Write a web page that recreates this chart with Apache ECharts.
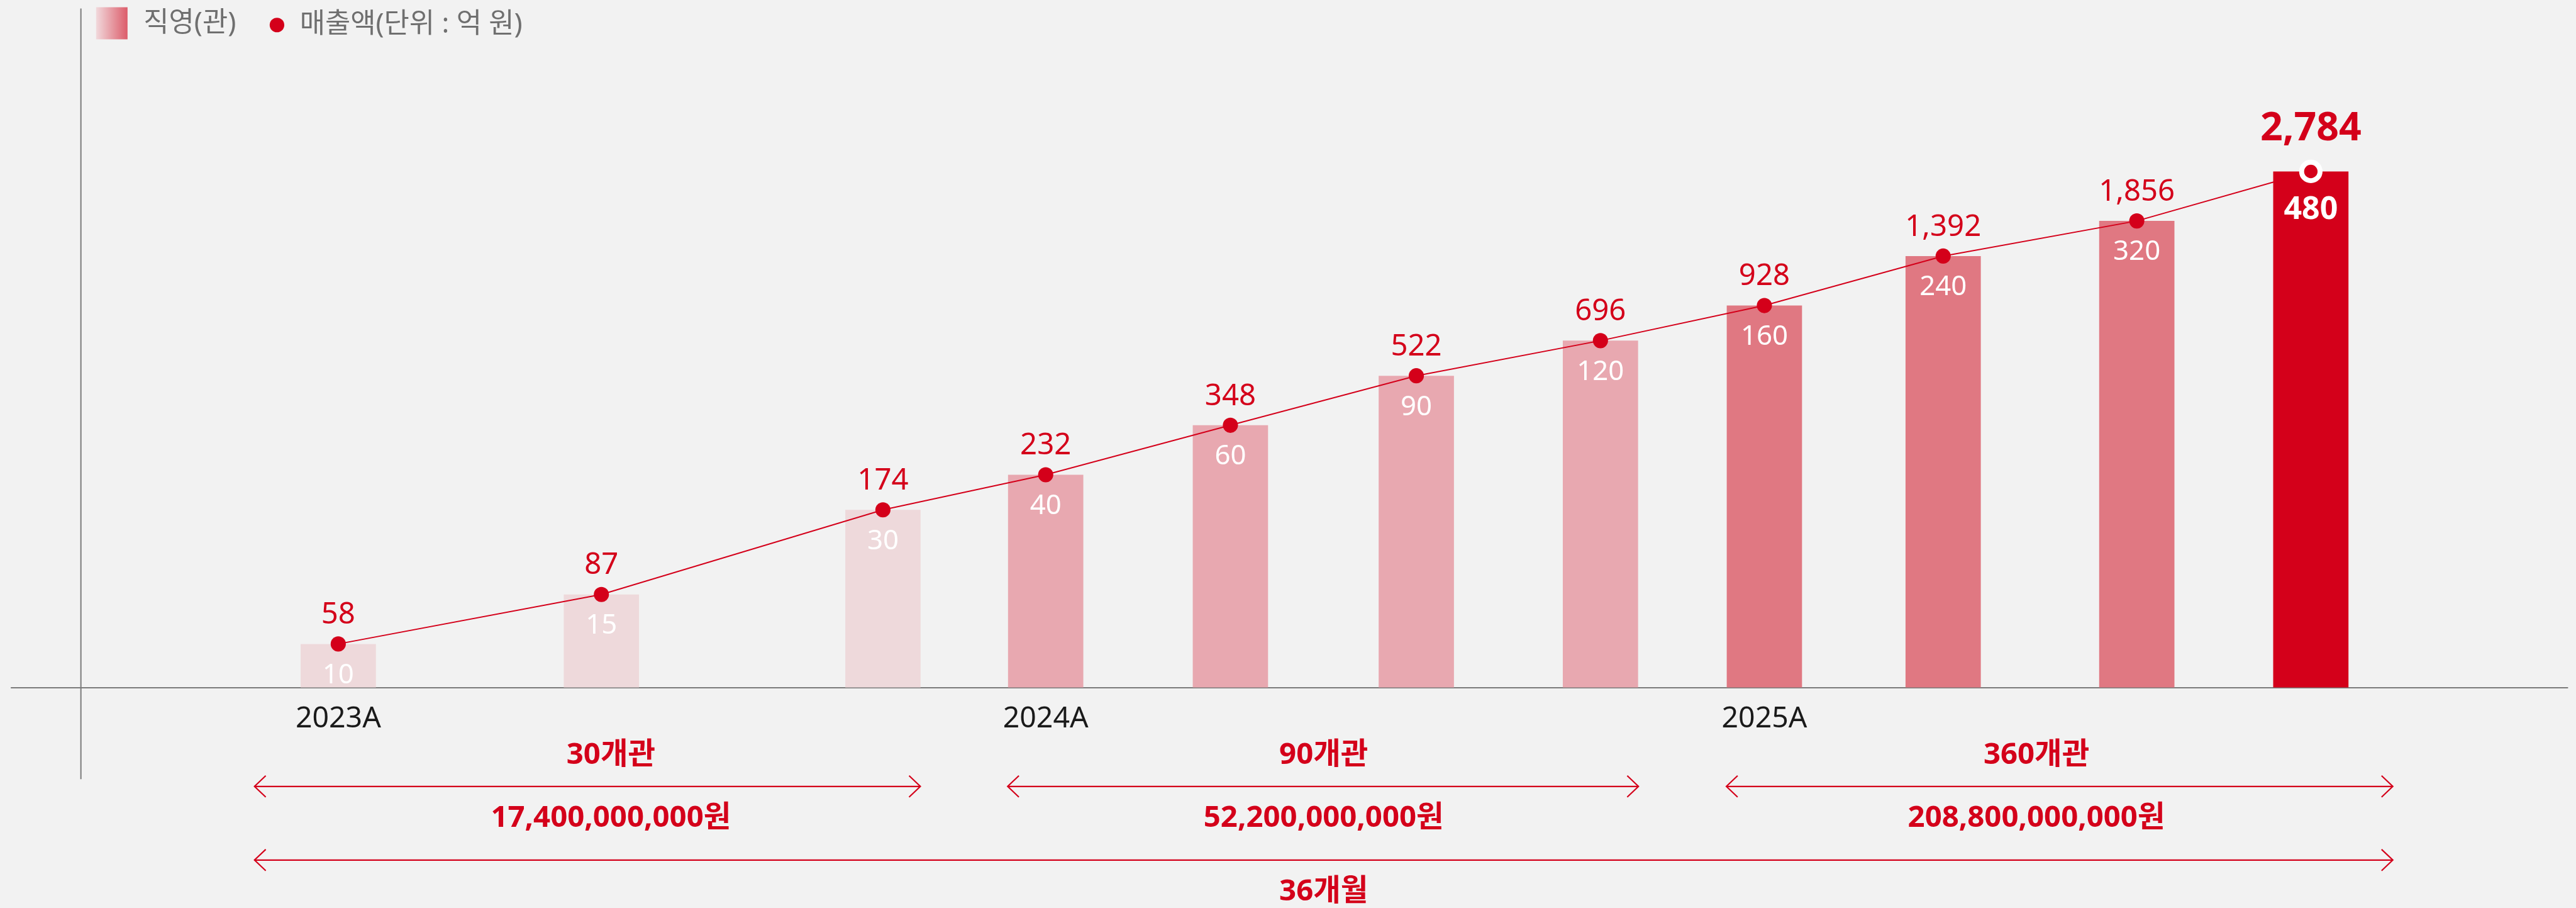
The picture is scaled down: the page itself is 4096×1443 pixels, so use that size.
<!DOCTYPE html>
<html lang="ko">
<head>
<meta charset="utf-8">
<title>직영 매출 추이</title>
<script src="https://cdn.jsdelivr.net/npm/echarts@6/dist/echarts.min.js"></script>
<style>
  html, body { margin: 0; padding: 0; background: #f2f2f2; }
  #chart { width: 4096px; height: 1443px; }
</style>
</head>
<body>
<div id="chart"></div>
<script>
// ---- data ----
// position of each bar on the 36-month timeline (months from start)
const barMonths = [1.41, 5.84, 10.58, 13.32, 16.43, 19.56, 22.66, 25.42, 28.43, 31.69, 34.62];
// directly operated stores (관)
const storeCounts = [10, 15, 30, 40, 60, 90, 120, 160, 240, 320, 480];
// revenue (억 원)
const revenue = [58, 87, 174, 232, 348, 522, 696, 928, 1392, 1856, 2784];
const barYears = ['2023A', '2023A', '2023A', '2024A', '2024A', '2024A', '2024A', '2025A', '2025A', '2025A', '2025A'];
const yearLabels = ['2023A', '2024A', '2025A'];

// yearly summaries under the axis
const periodStoreText = ['30개관', '90개관', '360개관'];
const periodRevenueText = ['17,400,000,000원', '52,200,000,000원', '208,800,000,000원'];
const periodCenter = [6, 18, 30];
const periodStart = [0, 12.68, 24.78];
const periodEnd = [11.21, 23.3, 36];
const totalSpan = [0, 36];
const totalText = '36개월';

const legendNames = ['직영(관)', '매출액(단위 : 억 원)'];

// ---- style / layout ----
const S = 4096 / 4585;
const RED = '#d4001a';
const AXIS_GREY = '#7a7a7a';
const FONT = '"Noto Sans", "Noto Sans CJK KR", sans-serif';
const yearColor = { '2023A': '#eed9db', '2024A': '#e8a8b0', '2025A': '#e07882' };
const lastIdx = storeCounts.length - 1;

// timeline scale: month 0 sits at 453px, 105.72px per month (full-size units)
const M0 = 453, PPM = 105.72;
const gridLeft = 20, gridRight = 4570;
const xMin = (gridLeft - M0) / PPM;
const xMax = (gridRight - M0) / PPM;

const barMin = 7;
const barMax = storeCounts[lastIdx];
const ratio = revenue[lastIdx] / storeCounts[lastIdx];

const yearTickMonths = yearLabels.map(y => barMonths[barYears.indexOf(y)]);

const chart = echarts.init(document.getElementById('chart'), null, { renderer: 'canvas' });

const legendGradient = new echarts.graphic.LinearGradient(0, 0, 1, 0, [
  { offset: 0, color: '#f1d9dc' },
  { offset: 1, color: '#dc5c6a' }
]);

const option = {
  backgroundColor: '#f2f2f2',
  animation: false,
  textStyle: { fontFamily: FONT },
  legend: [
    {
      data: [{ name: legendNames[0], icon: 'rect', itemStyle: { color: legendGradient } }],
      left: 171 * S, top: 13 * S, padding: 0,
      itemWidth: 56 * S, itemHeight: 57 * S,
      selectedMode: false,
      textStyle: { fontSize: 49 * S, color: '#6f6f6f', fontFamily: FONT, padding: [0, 0, 0, 23 * S] }
    },
    {
      data: [{ name: legendNames[1], icon: 'circle', itemStyle: { color: RED } }],
      left: 480 * S, top: 20 * S, padding: 0,
      itemWidth: 26 * S, itemHeight: 26 * S,
      selectedMode: false,
      textStyle: { fontSize: 49 * S, color: '#6f6f6f', fontFamily: FONT, padding: [0, 0, 0, 22 * S] }
    }
  ],
  grid: {
    left: gridLeft * S,
    right: 4096 - gridRight * S,
    top: 305 * S,
    bottom: 1443 - 1223 * S,
    containLabel: false
  },
  xAxis: {
    type: 'value',
    min: xMin,
    max: xMax,
    axisLine: { show: true, onZero: false, lineStyle: { color: AXIS_GREY, width: 2 } },
    axisTick: { show: false },
    splitLine: { show: false },
    axisLabel: {
      show: true,
      customValues: yearTickMonths,
      margin: 27,
      color: '#1a1a1a',
      fontSize: 52 * S,
      fontFamily: FONT,
      formatter: v => {
        const i = yearTickMonths.findIndex(m => Math.abs(m - v) < 1e-6);
        return i >= 0 ? yearLabels[i] : '';
      }
    }
  },
  yAxis: [
    {
      type: 'log', min: barMin, max: barMax, startValue: barMin, show: false,
      splitLine: { show: false }
    },
    {
      type: 'log', min: barMin * ratio, max: barMax * ratio, startValue: barMin * ratio, show: false,
      splitLine: { show: false }
    }
  ],
  series: [
    {
      name: legendNames[0],
      type: 'bar',
      yAxisIndex: 0,
      barWidth: 134 * S,
      itemStyle: { color: yearColor['2025A'] },
      emphasis: { disabled: true },
      label: {
        show: true,
        position: 'insideTop',
        distance: 28,
        color: '#ffffff',
        fontSize: 49 * S,
        fontFamily: FONT
      },
      data: storeCounts.map((v, i) => {
        const item = { value: [barMonths[i], v], itemStyle: { color: yearColor[barYears[i]] } };
        if (i === lastIdx) {
          item.itemStyle = { color: RED };
          item.label = { fontSize: 56 * S, fontWeight: 'bold', distance: 36 };
        }
        return item;
      }),
      z: 2
    },
    {
      name: legendNames[1],
      type: 'line',
      yAxisIndex: 1,
      symbol: 'circle',
      symbolSize: 27 * S,
      itemStyle: { color: RED },
      lineStyle: { color: RED, width: 2 },
      emphasis: { disabled: true },
      label: {
        show: true,
        position: 'top',
        distance: 10,
        color: RED,
        fontSize: 53 * S,
        fontFamily: FONT,
        formatter: p => p.value[1].toLocaleString('en-US')
      },
      data: revenue.map((v, i) => {
        const item = { value: [barMonths[i], v] };
        if (i === lastIdx) {
          item.symbolSize = 29.3;
          item.itemStyle = { color: RED, borderColor: '#ffffff', borderWidth: 7.9 };
          item.label = { fontSize: 70 * S, fontWeight: 'bold', distance: 17 };
        }
        return item;
      }),
      z: 5
    }
  ]
};

chart.setOption(option);

// ---- annotations below the axis, placed through the x scale ----
const px = m => chart.convertToPixel({ xAxisIndex: 0 }, m);
const ROW_STORES = 1344 * S;
const ROW_ARROW = 1399 * S;
const ROW_REVENUE = 1456 * S;
const ROW_TOTAL_ARROW = 1530 * S;
const ROW_TOTAL_TEXT = 1587 * S;
const HEAD_L = 20 * S, HEAD_H = 19 * S, ARROW_W = 2.2;

function arrow(m1, m2, y) {
  const x1 = px(m1), x2 = px(m2);
  const st = { stroke: RED, lineWidth: ARROW_W, fill: 'none' };
  return [
    { type: 'line', silent: true, shape: { x1: x1, y1: y, x2: x2, y2: y }, style: st },
    { type: 'polyline', silent: true, shape: { points: [[x1 + HEAD_L, y - HEAD_H], [x1, y], [x1 + HEAD_L, y + HEAD_H]] }, style: st },
    { type: 'polyline', silent: true, shape: { points: [[x2 - HEAD_L, y - HEAD_H], [x2, y], [x2 - HEAD_L, y + HEAD_H]] }, style: st }
  ];
}

function label(text, m, y) {
  return {
    type: 'text', silent: true, x: px(m), y: y,
    style: {
      text: text, fill: RED, fontSize: 53 * S, fontFamily: FONT, fontWeight: 'bold',
      align: 'center', verticalAlign: 'middle'
    }
  };
}

const graphics = [
  // vertical guide line on the left
  { type: 'line', silent: true, shape: { x1: 144 * S, y1: 15 * S, x2: 144 * S, y2: 1386 * S },
    style: { stroke: AXIS_GREY, lineWidth: 2 } }
];
periodCenter.forEach((c, i) => {
  graphics.push(label(periodStoreText[i], c, ROW_STORES));
  graphics.push(...arrow(periodStart[i], periodEnd[i], ROW_ARROW));
  graphics.push(label(periodRevenueText[i], c, ROW_REVENUE));
});
graphics.push(...arrow(totalSpan[0], totalSpan[1], ROW_TOTAL_ARROW));
graphics.push(label(totalText, (totalSpan[0] + totalSpan[1]) / 2, ROW_TOTAL_TEXT));

chart.setOption({ graphic: graphics });
</script>
</body>
</html>
